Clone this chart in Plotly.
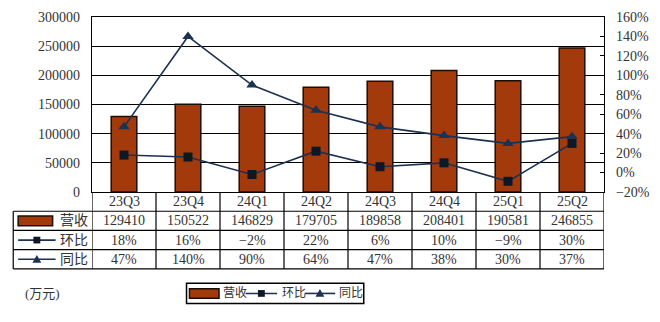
import plotly.graph_objects as go

categories = ["23Q3", "23Q4", "24Q1", "24Q2", "24Q3", "24Q4", "25Q1", "25Q2"]
revenue = [129410, 150522, 146829, 179705, 189858, 208401, 190581, 246855]
qoq = [18, 16, -2, 22, 6, 10, -9, 30]
yoy = [47, 140, 90, 64, 47, 38, 30, 37]
series_names = ["营收", "环比", "同比"]
unit_label = "(万元)"

W, H = 660, 322
L, R, T, B = 92, 612, 10, 192
BAR = "#A33A0C"
BAR_EDGE = "#1e0d05"
LINE = "#1d3150"
SQ = "#0d1726"
FONT = "Liberation Serif, Noto Sans CJK SC, serif"
TXT = "#333333"


def px_x(p):
    return (p - L) / (R - L)


def px_y(p):
    return (B - p) / (B - T)


def pct(v):
    return f"{v}%".replace("-", "\u2212")


fig = go.Figure()
fig.add_trace(go.Bar(x=categories, y=revenue, name=series_names[0], width=0.4,
                     marker=dict(color=BAR, line=dict(color=BAR_EDGE, width=1.5))))
fig.add_trace(go.Scatter(x=categories, y=qoq, name=series_names[1], yaxis="y2", mode="lines+markers",
                         line=dict(color=LINE, width=1.6),
                         marker=dict(symbol="square", size=9, color=SQ)))
fig.add_trace(go.Scatter(x=categories, y=yoy, name=series_names[2], yaxis="y2", mode="lines+markers",
                         line=dict(color=LINE, width=1.6),
                         marker=dict(symbol="triangle-up", size=10, color=LINE)))

shapes = []
ann = []
line_k = dict(color="black", width=1.2)

# Table horizontal lines
for py in (212, 232, 252, 272):
    shapes.append(dict(type="line", xref="paper", yref="paper", x0=px_x(12), x1=px_x(R),
                       y0=px_y(py), y1=px_y(py), line=line_k))
# Table vertical lines
shapes.append(dict(type="line", xref="paper", yref="paper", x0=px_x(12), x1=px_x(12),
                   y0=px_y(212), y1=px_y(272), line=line_k))
for xv in [-0.5 + i for i in range(len(categories) + 1)]:
    shapes.append(dict(type="line", xref="x", yref="paper", x0=xv, x1=xv,
                       y0=px_y(192), y1=px_y(272), line=line_k))

rows_y = [202, 222, 242, 262]
row_texts = [categories, [str(v) for v in revenue], [pct(v) for v in qoq], [pct(v) for v in yoy]]
for ry, texts in zip(rows_y, row_texts):
    for i, t in enumerate(texts):
        ann.append(dict(x=i, y=px_y(ry), xref="x", yref="paper", text=t, showarrow=False,
                        font=dict(size=14, family=FONT, color=TXT), xanchor="center", yanchor="middle"))


def glyph_rect(x0, x1, y0, y1):
    shapes.append(dict(type="rect", xref="paper", yref="paper", x0=px_x(x0), x1=px_x(x1),
                       y0=px_y(y1), y1=px_y(y0), fillcolor=BAR, line=dict(color=BAR_EDGE, width=1.5)))


def glyph_line(x0, x1, y, marker):
    shapes.append(dict(type="line", xref="paper", yref="paper", x0=px_x(x0), x1=px_x(x1),
                       y0=px_y(y), y1=px_y(y), line=dict(color=LINE, width=1.6)))
    c = (x0 + x1) / 2
    if marker == "square":
        shapes.append(dict(type="rect", xref="paper", yref="paper", x0=px_x(c - 3.5), x1=px_x(c + 3.5),
                           y0=px_y(y + 3.5), y1=px_y(y - 3.5), fillcolor=SQ, line=dict(width=0)))
    else:
        a, b, yb, yt = px_x(c - 4.5), px_x(c + 4.5), px_y(y + 3.5), px_y(y - 4.5)
        shapes.append(dict(type="path", xref="paper", yref="paper",
                           path=f"M {a} {yb} L {b} {yb} L {(a + b) / 2} {yt} Z",
                           fillcolor=LINE, line=dict(width=0)))


# Row labels with glyphs
for ry, name in zip(rows_y[1:], series_names):
    ann.append(dict(x=px_x(90), y=px_y(ry), xref="paper", yref="paper", text=name, showarrow=False,
                    font=dict(size=14, family=FONT, color=TXT), xanchor="right", yanchor="middle"))
glyph_rect(17, 52, 217, 227)
glyph_line(17, 55, 242, "square")
glyph_line(17, 55, 262, "triangle")

# Bottom legend (drawn)
shapes.append(dict(type="rect", xref="paper", yref="paper", x0=px_x(188), x1=px_x(368),
                   y0=px_y(308), y1=px_y(287), line=dict(color="black", width=1.5), fillcolor="white"))
glyph_rect(191, 221, 292.5, 302.5)
glyph_line(248, 280, 297.5, "square")
glyph_line(308, 339, 297.5, "triangle")
for lx, name in zip((223, 283, 341), series_names):
    ann.append(dict(x=px_x(lx), y=px_y(297.5), xref="paper", yref="paper", text=name, showarrow=False,
                    font=dict(size=12, family=FONT, color=TXT), xanchor="left", yanchor="middle"))

ann.append(dict(x=px_x(22), y=px_y(298), xref="paper", yref="paper", text=unit_label, showarrow=False,
                font=dict(size=13, family=FONT, color=TXT), xanchor="left", yanchor="middle"))

fig.update_layout(
    width=W, height=H,
    margin=dict(l=L, r=W - R, t=T, b=H - B, pad=0),
    paper_bgcolor="white", plot_bgcolor="white",
    font=dict(family=FONT, size=14, color=TXT),
    shapes=shapes, annotations=ann,
    showlegend=False,
    xaxis=dict(type="category", range=[-0.5, 7.5], showticklabels=False, ticks="",
               showline=True, mirror=True, linecolor="black", linewidth=1.2, showgrid=False),
    yaxis=dict(range=[0, 300000], dtick=50000, tickformat="d", showgrid=True, gridcolor="black",
               gridwidth=1, showline=True, linecolor="black", linewidth=1.2, ticks="",
               ticklabelstandoff=8, tickfont=dict(size=14, family=FONT, color=TXT), zeroline=False),
    yaxis2=dict(range=[-20, 160], dtick=20, ticksuffix="%", overlaying="y", side="right",
                showgrid=False, showline=True, linecolor="black", linewidth=1.2,
                ticks="inside", ticklen=4, tickcolor="black", ticklabelstandoff=8,
                tickfont=dict(size=14, family=FONT, color=TXT), zeroline=False),
)

fig.write_html("out.html")
